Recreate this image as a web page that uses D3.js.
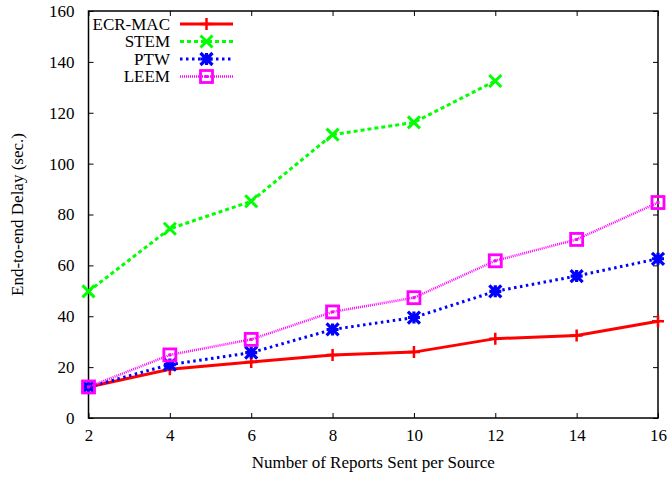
<!DOCTYPE html>
<html>
<head>
<meta charset="utf-8">
<script src="https://cdn.jsdelivr.net/npm/d3@7"></script>
<style>
  html, body { margin: 0; padding: 0; background: #fff; }
  svg text { font-family: "Liberation Serif", "Times New Roman", serif; fill: #000; }
</style>
</head>
<body>
<svg id="chart" width="671" height="477"></svg>
<script>
// End-to-end delay versus number of reports sent per source
const reports = [2, 4, 6, 8, 10, 12, 14, 16];
const ecrMac = [12.2, 19.2, 22.0, 24.8, 25.9, 31.2, 32.4, 38.0];
const stem   = [49.8, 74.4, 85.2, 111.4, 116.2, 132.5];
const ptw    = [12.2, 21.0, 25.7, 34.8, 39.5, 49.8, 55.8, 62.6];
const leem   = [12.2, 24.8, 30.9, 41.7, 47.3, 61.8, 70.2, 84.7];
const xTicks = [2, 4, 6, 8, 10, 12, 14, 16];
const yTicks = [0, 20, 40, 60, 80, 100, 120, 140, 160];

const series = [
  { name: "ECR-MAC", values: ecrMac, color: "#ff0000", width: 3,   dash: null,  marker: "plus" },
  { name: "STEM",    values: stem,   color: "#00ff00", width: 3,   dash: "4,3", marker: "cross" },
  { name: "PTW",     values: ptw,    color: "#0000ff", width: 3,   dash: "2.5,3.5", marker: "star" },
  { name: "LEEM",    values: leem,   color: "#ff00ff", width: 2.5, dash: "1,1", marker: "box" }
];

const margin = { left: 88.5, right: 13, top: 11, bottom: 59 };
const W = 671, H = 477;
const svg = d3.select("#chart");

const x = d3.scaleLinear().domain([2, 16]).range([margin.left, W - margin.right]);
const y = d3.scaleLinear().domain([0, 160]).range([H - margin.bottom, margin.top]);

const tickLen = 5;
const fontSize = 17;

// axes: ticks drawn inward, mirrored on top and right
const xAxisB = d3.axisBottom(x).tickValues(xTicks).tickSizeInner(-tickLen).tickSizeOuter(0).tickPadding(11);
const xAxisT = d3.axisTop(x).tickValues(xTicks).tickSizeInner(-tickLen).tickSizeOuter(0).tickFormat("");
const yAxisL = d3.axisLeft(y).tickValues(yTicks).tickSizeInner(-tickLen).tickSizeOuter(0).tickPadding(14);
const yAxisR = d3.axisRight(y).tickValues(yTicks).tickSizeInner(-tickLen).tickSizeOuter(0).tickFormat("");

function styleAxis(g) {
  g.select(".domain").remove();
  g.selectAll("line").attr("stroke", "#000").attr("stroke-width", 1);
  g.selectAll("text").attr("font-size", fontSize).attr("font-family", "Liberation Serif");
}

svg.append("g").attr("transform", `translate(0,${y(0)})`).call(xAxisB).call(styleAxis);
svg.append("g").attr("transform", `translate(0,${y(160)})`).call(xAxisT).call(styleAxis);
svg.append("g").attr("transform", `translate(${x(2)},0)`).call(yAxisL).call(styleAxis);
svg.append("g").attr("transform", `translate(${x(16)},0)`).call(yAxisR).call(styleAxis);

// plot border
svg.append("rect")
  .attr("x", x(2)).attr("y", y(160))
  .attr("width", x(16) - x(2)).attr("height", y(0) - y(160))
  .attr("fill", "none").attr("stroke", "#000").attr("stroke-width", 1.5);

// axis titles
svg.append("text")
  .attr("x", (x(2) + x(16)) / 2).attr("y", 468)
  .attr("text-anchor", "middle").attr("font-size", fontSize)
  .text("Number of Reports Sent per Source");
svg.append("text")
  .attr("transform", `translate(23,${(y(0) + y(160)) / 2}) rotate(-90)`)
  .attr("text-anchor", "middle").attr("font-size", fontSize)
  .text("End-to-end Delay (sec.)");

// marker shapes
function drawMarker(g, type, cx, cy, color) {
  const s = 6;
  if (type === "plus") {
    g.append("path").attr("d", `M${cx - s},${cy}H${cx + s}M${cx},${cy - s}V${cy + s}`)
      .attr("stroke", color).attr("stroke-width", 2.5).attr("fill", "none");
  } else if (type === "cross") {
    g.append("path").attr("d", `M${cx - s},${cy - s}L${cx + s},${cy + s}M${cx - s},${cy + s}L${cx + s},${cy - s}`)
      .attr("stroke", color).attr("stroke-width", 3).attr("fill", "none");
  } else if (type === "star") {
    g.append("path").attr("d",
      `M${cx - s},${cy}H${cx + s}M${cx},${cy - s}V${cy + s}` +
      `M${cx - s},${cy - s}L${cx + s},${cy + s}M${cx - s},${cy + s}L${cx + s},${cy - s}`)
      .attr("stroke", color).attr("stroke-width", 3.2).attr("fill", "none");
  } else if (type === "box") {
    g.append("rect").attr("x", cx - s).attr("y", cy - s).attr("width", 2 * s).attr("height", 2 * s)
      .attr("stroke", color).attr("stroke-width", 2.8).attr("fill", "none");
    g.append("rect").attr("x", cx - 1.5).attr("y", cy - 1.5).attr("width", 3).attr("height", 3)
      .attr("fill", color);
  }
}

const line = d3.line().x(d => x(d[0])).y(d => y(d[1]));

// draw series in order, later ones on top
series.forEach(s => {
  const pts = s.values.map((v, i) => [reports[i], v]);
  const g = svg.append("g");
  g.append("path").datum(pts).attr("d", line)
    .attr("fill", "none").attr("stroke", s.color).attr("stroke-width", s.width)
    .attr("stroke-dasharray", s.dash);
  pts.forEach(p => drawMarker(g, s.marker, x(p[0]), y(p[1]), s.color));
});

// legend
const legX = 170, legY0 = 24, legDy = 17.5;
series.forEach((s, i) => {
  const ly = legY0 + i * legDy;
  const g = svg.append("g");
  g.append("text").attr("x", legX).attr("y", ly).attr("dy", "0.35em")
    .attr("text-anchor", "end").attr("font-size", fontSize).text(s.name);
  g.append("line").attr("x1", 180).attr("x2", 233).attr("y1", ly).attr("y2", ly)
    .attr("stroke", s.color).attr("stroke-width", s.width).attr("stroke-dasharray", s.dash);
  drawMarker(g, s.marker, 206.5, ly, s.color);
});
</script>
</body>
</html>
